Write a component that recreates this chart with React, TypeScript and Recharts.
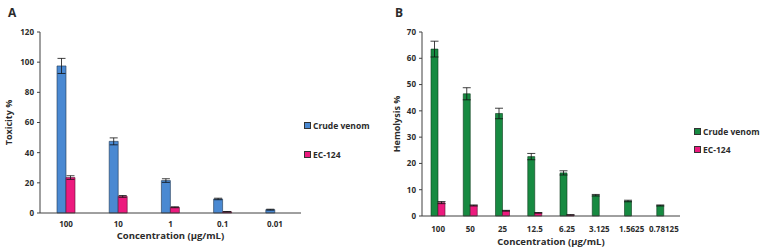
import React from 'react';
import { BarChart, Bar, XAxis, YAxis, ErrorBar } from 'recharts';

const catsA = ['100', '10', '1', '0.1', '0.01'];
const crudeA = [97.5, 47.5, 21.5, 9.3, 2.2];
const crudeAErr = [5, 2.3, 1.2, 0.5, 0.3];
const ecA = [23.5, 11, 3.8, 0.8, 0];
const ecAErr = [1.2, 0.6, 0.3, 0.2, 0];
const ticksA = [0, 20, 40, 60, 80, 100, 120];

const catsB = ['100', '50', '25', '12.5', '6.25', '3.125', '1.5625', '0.78125'];
const crudeB = [63.5, 46.5, 39, 22.6, 16.4, 7.9, 5.7, 4];
const crudeBErr = [3, 2.3, 2, 1.2, 0.8, 0.3, 0.3, 0.2];
const ecB = [5.1, 4, 2, 1.2, 0.4, 0, 0, 0];
const ecBErr = [0.4, 0.2, 0.15, 0.1, 0.1, 0, 0, 0];
const ticksB = [0, 10, 20, 30, 40, 50, 60, 70];

const dataA = catsA.map((c, i) => ({ c, crude: crudeA[i], crudeErr: crudeAErr[i], ec: ecA[i], ecErr: ecAErr[i] }));
const dataB = catsB.map((c, i) => ({ c, crude: crudeB[i], crudeErr: crudeBErr[i], ec: ecB[i], ecErr: ecBErr[i] }));

const FONT = "'Open Sans', 'Liberation Sans', sans-serif";
const TXT = '#2b2b2b';
const AXIS = '#404040';
const BLUE = '#4A89D2';
const PINK = '#EC1A7E';
const GREEN = '#178A41';

const tickStyle = { fontSize: 8, fontWeight: 700, fill: TXT, fontFamily: FONT };

function LegendBox({ items, left, top, gap }: { items: { label: string; color: string }[]; left: number; top: number; gap: number }) {
  return (
    <div style={{ position: 'absolute', left, top, fontFamily: FONT, fontSize: 8.5, fontWeight: 700, color: TXT }}>
      {items.map((it, i) => (
        <div key={it.label} style={{ display: 'flex', alignItems: 'center', height: 10, marginTop: i === 0 ? 0 : gap }}>
          <span style={{ width: 5, height: 5, background: it.color, border: '1px solid #333', marginRight: 2, display: 'inline-block' }} />
          <span style={{ whiteSpace: 'nowrap' }}>{it.label}</span>
        </div>
      ))}
    </div>
  );
}

export default function App() {
  return (
    <div style={{ position: 'fixed', left: 0, top: 0, width: 764, height: 252, background: '#fff', overflow: 'hidden' }}>
      <div style={{ position: 'absolute', left: 8, top: 4, fontFamily: FONT, fontWeight: 700, fontSize: 12, color: TXT }}>A</div>
      <div style={{ position: 'absolute', left: 395, top: 4, fontFamily: FONT, fontWeight: 700, fontSize: 12, color: TXT }}>B</div>

      <div style={{ position: 'absolute', left: 0, top: 0 }}>
        <BarChart width={380} height={252} data={dataA} margin={{ top: 32, right: 79, bottom: 9, left: 0 }} barGap={0} barSize={9}>
          <XAxis dataKey="c" axisLine={{ stroke: AXIS }} tickLine={false} tick={tickStyle} tickMargin={2} height={30}
            label={{ value: 'Concentration (µg/mL)', position: 'insideBottom', offset: 4, style: { fontSize: 9.5, fontWeight: 700, fill: TXT, fontFamily: FONT } }} />
          <YAxis width={40} domain={[0, 120]} ticks={ticksA} axisLine={{ stroke: AXIS }} tickLine={{ stroke: AXIS }} tickSize={3} tickMargin={3} tick={tickStyle}
            label={{ value: 'Toxicity %', angle: -90, position: 'insideLeft', offset: 9, style: { fontSize: 9, fontWeight: 700, fill: TXT, fontFamily: FONT, textAnchor: 'middle' } }} />
          <Bar dataKey="crude" fill={BLUE} stroke="#1f3550" strokeWidth={0.6} isAnimationActive={false}>
            <ErrorBar dataKey="crudeErr" width={4} stroke="#111" strokeWidth={0.8} />
          </Bar>
          <Bar dataKey="ec" fill={PINK} stroke="#5a1030" strokeWidth={0.6} isAnimationActive={false}>
            <ErrorBar dataKey="ecErr" width={4} stroke="#111" strokeWidth={0.8} />
          </Bar>
        </BarChart>
        <LegendBox left={304} top={120} gap={19} items={[{ label: 'Crude venom', color: BLUE }, { label: 'EC-124', color: PINK }]} />
      </div>

      <div style={{ position: 'absolute', left: 380, top: 0 }}>
        <BarChart width={384} height={252} data={dataB} margin={{ top: 32, right: 84, bottom: 6, left: 0 }} barGap={0} barSize={7}>
          <XAxis dataKey="c" axisLine={{ stroke: AXIS }} tickLine={false} tick={tickStyle} tickMargin={4} height={30} interval={0}
            label={{ value: 'Concentration (µg/mL)', position: 'insideBottom', offset: 1, style: { fontSize: 9.5, fontWeight: 700, fill: TXT, fontFamily: FONT } }} />
          <YAxis width={42} domain={[0, 70]} ticks={ticksB} axisLine={{ stroke: AXIS }} tickLine={{ stroke: AXIS }} tickSize={3} tickMargin={3} tick={tickStyle}
            label={{ value: 'Hemolysis %', angle: -90, position: 'insideLeft', offset: 17, style: { fontSize: 9, fontWeight: 700, fill: TXT, fontFamily: FONT, textAnchor: 'middle' } }} />
          <Bar dataKey="crude" fill={GREEN} stroke="#0d3a1c" strokeWidth={0.6} isAnimationActive={false}>
            <ErrorBar dataKey="crudeErr" width={4} stroke="#111" strokeWidth={0.8} />
          </Bar>
          <Bar dataKey="ec" fill={PINK} stroke="#5a1030" strokeWidth={0.6} isAnimationActive={false}>
            <ErrorBar dataKey="ecErr" width={4} stroke="#111" strokeWidth={0.8} />
          </Bar>
        </BarChart>
        <LegendBox left={314} top={126} gap={8} items={[{ label: 'Crude venom', color: GREEN }, { label: 'EC-124', color: PINK }]} />
      </div>
    </div>
  );
}
